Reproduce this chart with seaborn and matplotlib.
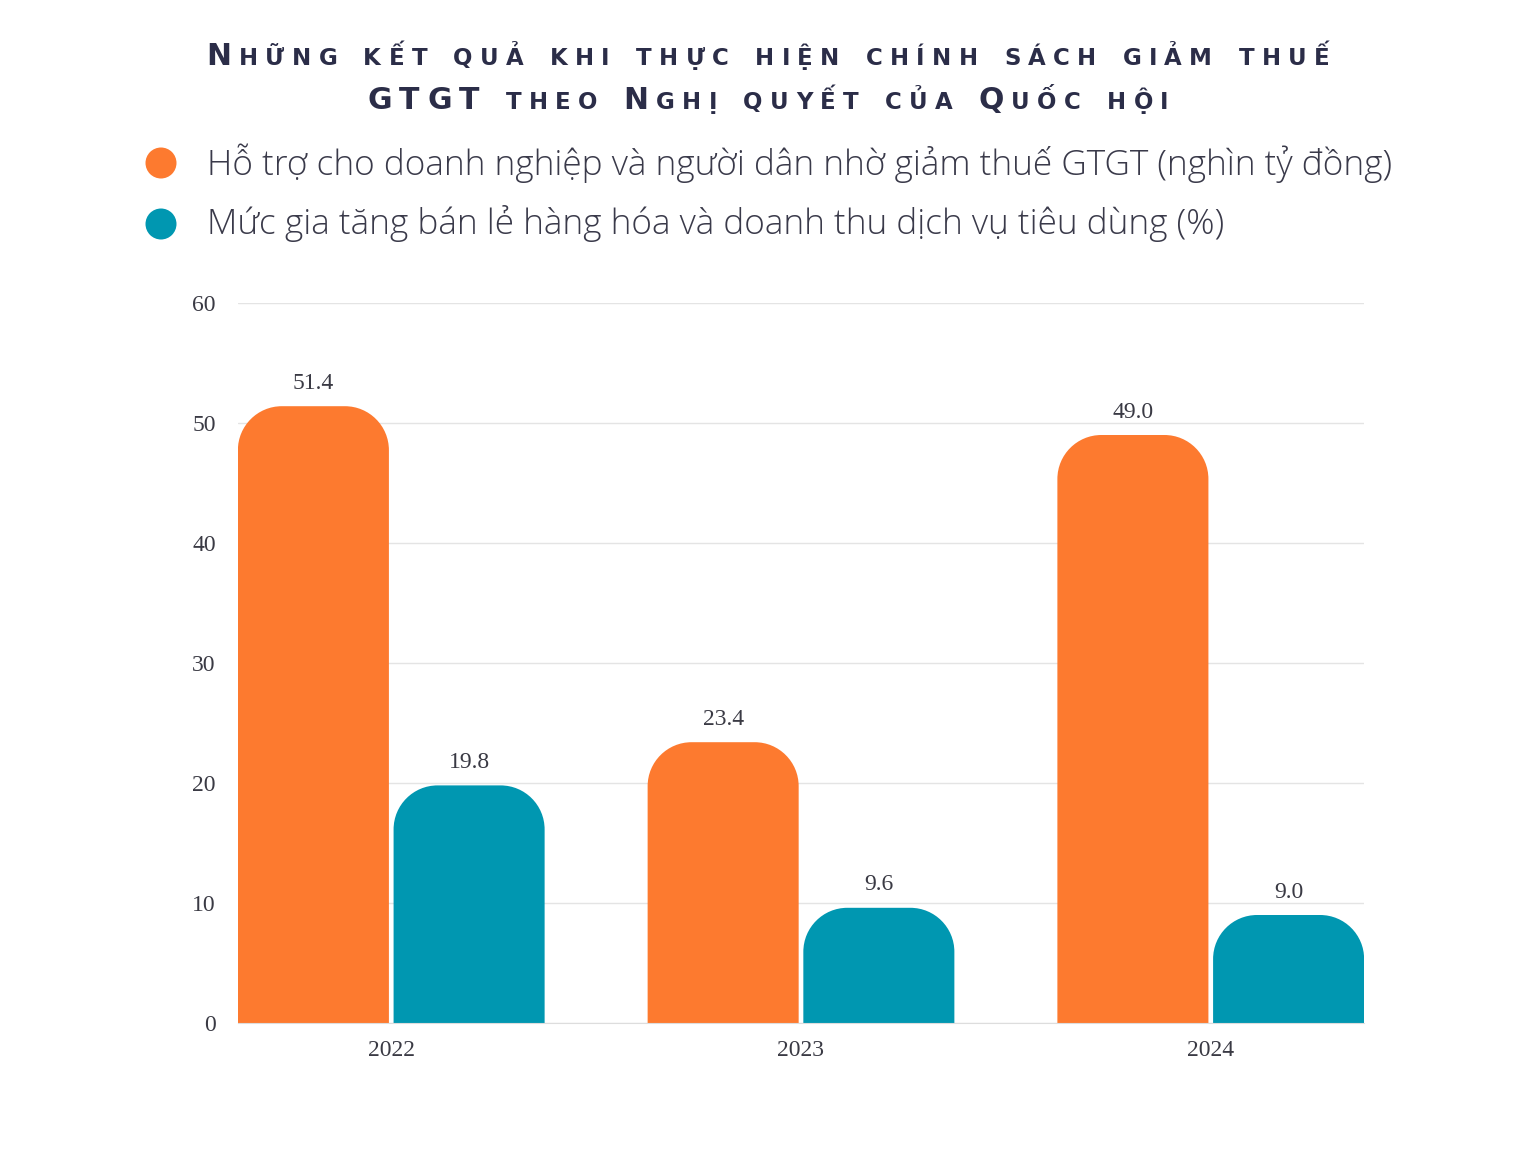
import pandas as pd
import numpy as np
from matplotlib import pyplot as plt
from matplotlib.path import Path
from matplotlib.patches import PathPatch, Ellipse
import seaborn as sns

# du lieu doc tu hinh
years = ['2022', '2023', '2024']
ho_tro = [51.4, 23.4, 49.0]      # nghin ty dong
ban_le = [19.8, 9.6, 9.0]        # %
series_names = ['Hỗ trợ cho doanh nghiệp và người dân nhờ giảm thuế GTGT (nghìn tỷ đồng)',
                'Mức gia tăng bán lẻ hàng hóa và doanh thu dịch vụ tiêu dùng (%)']
title_lines = ['Những kết quả khi thực hiện chính sách giảm thuế',
               'GTGT theo Nghị quyết của Quốc hội']
colors = ['#fd7a2f', '#0097b1']

sns.set_style('white')
plt.rcParams['font.family'] = ['Open Sans', 'DejaVu Sans']

W, H = 1536, 1152
fig = plt.figure(figsize=(W / 100, H / 100), dpi=100)
ax = fig.add_axes([238 / W, 1 - 1023 / H, (1364 - 238) / W, (1023 - 303) / H])

df = pd.DataFrame({
    'year': years * 2,
    'value': ho_tro + ban_le,
    'series': [series_names[0]] * 3 + [series_names[1]] * 3,
})
sns.barplot(data=df, x='year', y='value', hue='series', palette=colors,
            width=0.76, gap=0.03, legend=False, ax=ax, saturation=1)

ax.set_ylim(0, 60)
ax.set_xlim(-0.374, 2.374)
ax.set_yticks(range(0, 61, 10))
ax.set_xlabel('')
ax.set_ylabel('')
ax.grid(axis='y', color='#e4e4e4', linewidth=1)
ax.set_axisbelow(True)
sns.despine(ax=ax, left=True)
ax.spines['bottom'].set_color('#dddddd')
ax.tick_params(length=0)
ax.tick_params(axis='y', pad=16)
ax.tick_params(axis='x', pad=12)
for lab in ax.get_xticklabels() + ax.get_yticklabels():
    lab.set_fontfamily(['Liberation Serif', 'DejaVu Serif'])
    lab.set_fontsize(17)
    lab.set_color('#3a3a44')

# nhan gia tri
for cont in ax.containers:
    ax.bar_label(cont, fmt='%.1f', padding=9, fontsize=17, color='#3a3a44',
                 family=['Liberation Serif', 'DejaVu Serif'])

# bo tron goc tren cua cot
r_px = 44
p0 = ax.transData.transform((0, 0))
p1 = ax.transData.transform((1, 1))
rx = r_px / (p1[0] - p0[0])
ry = r_px / (p1[1] - p0[1])
k = 0.5523
for cont in ax.containers:
    for rect in cont:
        x0, y0 = rect.get_x(), rect.get_y()
        x1, y1 = x0 + rect.get_width(), y0 + rect.get_height()
        verts = [(x0, y0), (x0, y1 - ry),
                 (x0, y1 - ry + k * ry), (x0 + rx - k * rx, y1), (x0 + rx, y1),
                 (x1 - rx, y1),
                 (x1 - rx + k * rx, y1), (x1, y1 - ry + k * ry), (x1, y1 - ry),
                 (x1, y0), (x0, y0)]
        codes = [Path.MOVETO, Path.LINETO,
                 Path.CURVE4, Path.CURVE4, Path.CURVE4,
                 Path.LINETO,
                 Path.CURVE4, Path.CURVE4, Path.CURVE4,
                 Path.LINETO, Path.CLOSEPOLY]
        ax.add_patch(PathPatch(Path(verts, codes), facecolor=rect.get_facecolor(),
                               edgecolor='none', zorder=2))
        rect.set_visible(False)

# chu giong small caps cho tieu de, dat tung ky tu de gian chu
renderer = fig.canvas.get_renderer()
title_color = '#2b2d48'
title_font = ['DejaVu Sans']
title_weight = 'bold'
big, small = 21.5, 16.5


def char_width(t, size):
    if t.get_text() == ' ':
        return 0.5 * size * 100 / 72
    return t.get_window_extent(renderer).width


def small_caps(line, y_px, tracking):
    texts, widths = [], []
    for ch in line:
        size = big if ch.isupper() else small
        t = fig.text(0, 1 - y_px / H, ch.upper(), fontsize=size, color=title_color,
                     family=title_font, fontweight=title_weight, va='baseline', ha='left')
        texts.append(t)
        widths.append(char_width(t, size))
    total = sum(widths) + tracking * (len(line) - 1)
    x = (W - total) / 2
    for t, w in zip(texts, widths):
        t.set_x(x / W)
        x += w + tracking
    return total


def natural_width(line):
    tot = 0
    for ch in line:
        size = big if ch.isupper() else small
        t = fig.text(0, 0, ch.upper(), fontsize=size, family=title_font,
                     fontweight=title_weight)
        tot += char_width(t, size)
        t.remove()
    return tot


# gian chu sao cho dong 1 rong nhu hinh goc (~1123 px)
n1 = len(title_lines[0])
track = max(0, (1123 - natural_width(title_lines[0])) / (n1 - 1))
small_caps(title_lines[0], 65, track)
small_caps(title_lines[1], 109, track)

# chu giai
leg_y = [163, 224]
for name, c, y in zip(series_names, colors, leg_y):
    fig.patches.append(Ellipse((161 / W, 1 - y / H), 31 / W, 31 / H,
                               transform=fig.transFigure, facecolor=c, edgecolor='none'))
    fig.text(207 / W, 1 - y / H, name, fontsize=25.4, color='#3a3a4a',
             fontweight='light', va='center', ha='left')

fig.savefig('out.png', dpi=100, facecolor='white')
